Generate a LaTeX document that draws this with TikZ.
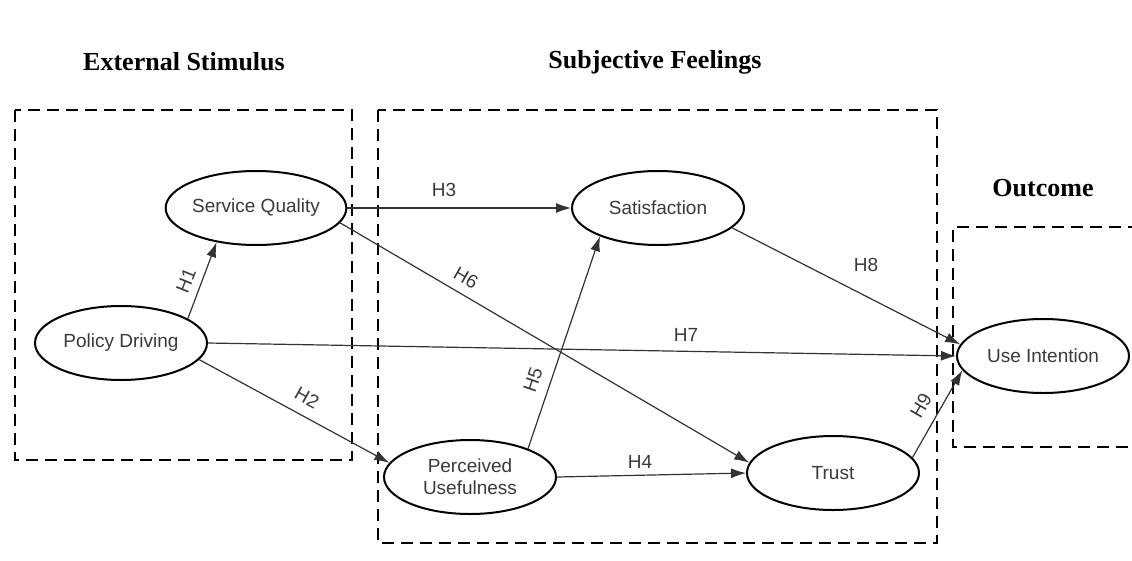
\documentclass[tikz,border=0pt]{standalone}
\usepackage{fontspec}
\setmainfont{Liberation Sans}
\newfontfamily\titlefont{Liberation Serif}
\usetikzlibrary{shapes.geometric,arrows.meta}
\definecolor{txt}{HTML}{3A3A3A}
\definecolor{ln}{HTML}{333333}
\begin{document}
\begin{tikzpicture}[x=1pt,y=-1pt,
  construct/.style={ellipse,draw=black,line width=2pt,minimum width=172pt,minimum height=74pt,inner sep=0pt,
    font=\fontsize{19}{22}\selectfont,text=txt,align=center},
  groupbox/.style={draw=black,line width=2.6pt,dash pattern=on 12pt off 7pt},
  grouptitle/.style={font=\titlefont\bfseries\fontsize{26}{28}\selectfont,inner sep=0pt},
  conn/.style={draw=ln,line width=1.2pt,-{Latex[length=15pt,width=10pt]}},
  hlab/.style={font=\fontsize{19}{21}\selectfont,text=txt,inner sep=0pt}
]
\useasboundingbox (0,0) rectangle (1132,560);
\fill[white] (0,0) rectangle (1132,560);

% group boxes
\draw[groupbox] (15,110) rectangle (352,460);
\draw[groupbox] (378,110) rectangle (937,543);
\draw[groupbox] (1140,227) -- (953,227) -- (953,447) -- (1140,447);

% titles
\node[grouptitle] (t1) at (184,62) {External Stimulus};
\node[grouptitle] (t2) at (655,62) {Subjective Feelings};
\node[grouptitle] (t3) at (1043,188) {Outcome};

% constructs
\node[construct] (sq) at (256,208) {Service Quality};
\node[construct] (pd) at (121,343) {Policy Driving};
\node[construct] (sat) at (658,208) {Satisfaction};
\node[construct] (pu) at (470,477) {Perceived\\Usefulness};
\node[construct] (tr) at (833,473) {Trust};
\node[construct] (ui) at (1043,356) {Use Intention};

% connectors
\draw[conn] (pd.20) -- (sq.221);
\draw[conn] (pd.-12) -- (pu.170);
\draw[conn] (sq.east) -- (sat.west);
\draw[conn] (pu.east) -- (tr.west);
\draw[conn] (pu.26) -- (sat.206);
\draw[conn] (sq.-10) -- (tr.173);
\draw[conn] (pd.east) -- (ui.west);
\draw[conn] (sat.-15) -- (ui.172);
\draw[conn] (tr.11) -- (ui.190);

% labels
\node[hlab,rotate=68] (h1) at (186,281) {H1};
\node[hlab,rotate=-29] (h2) at (307,398) {H2};
\node[hlab] (h3) at (444,190) {H3};
\node[hlab] (h4) at (640,462) {H4};
\node[hlab,rotate=71] (h5) at (533,380) {H5};
\node[hlab,rotate=-30] (h6) at (466,278) {H6};
\node[hlab] (h7) at (686,335) {H7};
\node[hlab] (h8) at (866,265) {H8};
\node[hlab,rotate=60] (h9) at (921,406) {H9};
\end{tikzpicture}
\end{document}
